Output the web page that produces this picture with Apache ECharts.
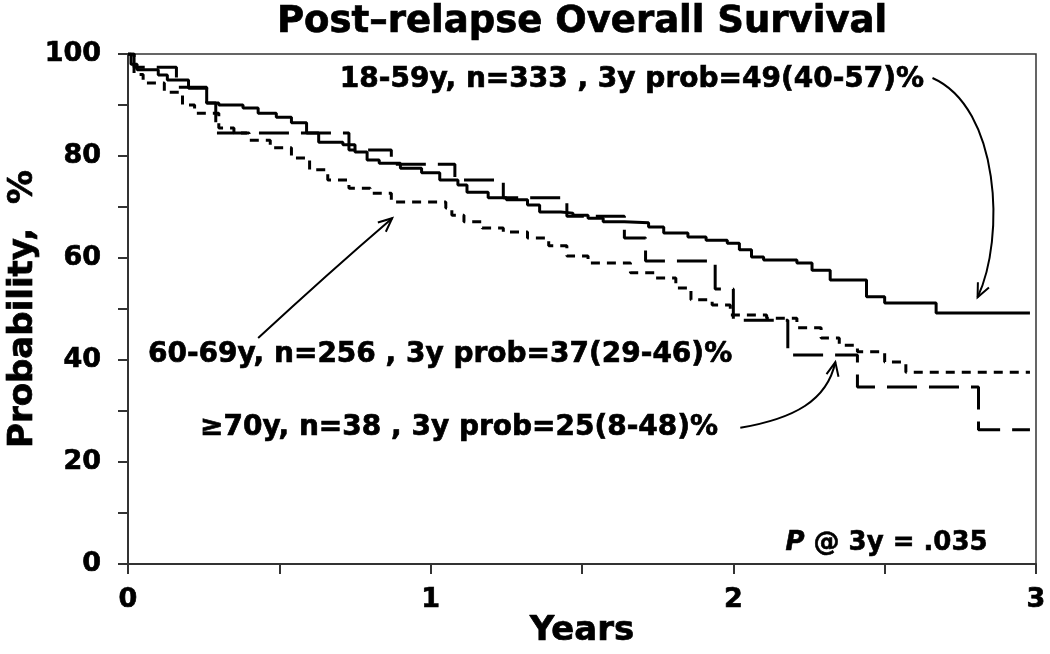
<!DOCTYPE html>
<html><head><meta charset="utf-8">
<script src="https://cdn.jsdelivr.net/npm/echarts@6/dist/echarts.min.js"></script>
<style>html,body{margin:0;padding:0;background:#fff}#c{width:1050px;height:654px}</style>
</head><body><div id="c"></div>
<script>
const FONT = '"DejaVu Sans", Verdana, sans-serif';
const titleText = 'Post\u2013relapse Overall Survival';
const xName = 'Years';
const yName = 'Probability,  %';
const xLabelValues = [0, 1, 2, 3];
const yLabelValues = [0, 20, 40, 60, 80, 100];

// 18-59y (solid)
const youngYears = [0, 0.01, 0.03, 0.10, 0.13, 0.20, 0.26, 0.30, 0.38, 0.43, 0.49, 0.54, 0.59, 0.63, 0.71, 0.75, 0.79, 0.83, 0.90, 0.97, 1.03, 1.09, 1.12, 1.19, 1.25, 1.32, 1.36, 1.43, 1.47, 1.52, 1.57, 1.64, 1.72, 1.77, 1.85, 1.91, 1.98, 2.02, 2.06, 2.10, 2.21, 2.26, 2.32, 2.44, 2.50, 2.67, 2.98];
const youngProb  = [100, 98, 96.9, 95.9, 94.9, 93.3, 90.4, 90.0, 89.4, 88.4, 87.6, 86.5, 84.5, 82.7, 82.2, 80.8, 79.2, 78.6, 77.6, 76.7, 75.3, 74.3, 72.9, 71.8, 71.4, 70.4, 69.0, 68.8, 68.4, 67.8, 67.1, 66.9, 66.1, 64.9, 64.1, 63.5, 62.9, 61.6, 60.2, 59.6, 59.0, 57.6, 55.7, 52.4, 51.2, 49.2, 49.2];

// 60-69y (short dash)
const midYears = [0, 0.02, 0.05, 0.12, 0.18, 0.22, 0.30, 0.35, 0.40, 0.47, 0.54, 0.60, 0.66, 0.73, 0.80, 0.87, 1.05, 1.07, 1.11, 1.17, 1.24, 1.32, 1.39, 1.45, 1.52, 1.66, 1.74, 1.81, 1.86, 1.93, 1.99, 2.11, 2.21, 2.29, 2.35, 2.41, 2.50, 2.57, 2.98];
const midProb  = [100, 96, 94.3, 92.5, 90.0, 88.4, 85.5, 84.5, 83.1, 81.6, 79.6, 77.3, 75.3, 73.7, 72.7, 71.0, 69.8, 68.4, 67.1, 65.9, 65.1, 63.9, 62.4, 60.4, 59.0, 57.1, 56.1, 54.1, 51.8, 50.8, 48.8, 48.2, 46.3, 44.3, 42.9, 41.6, 39.6, 37.6, 37.6];

// >=70y (long dash)
const oldYears = [0, 0.02, 0.16, 0.26, 0.29, 0.73, 0.87, 1.08, 1.24, 1.45, 1.64, 1.71, 1.94, 2.00, 2.18, 2.41, 2.81, 2.98];
const oldProb  = [100, 97.4, 93.5, 90.4, 84.5, 81.2, 78.4, 75.3, 71.8, 68.2, 63.9, 59.4, 53.9, 47.8, 41.0, 34.7, 26.3, 26.3];

const annoTexts = ['18-59y, n=333 , 3y prob=49(40-57)%', '60-69y, n=256 , 3y prob=37(29-46)%', '\u226570y, n=38 , 3y prob=25(8-48)%'];
const annoPos = [[0.70, 94.9], [0.066, 41.0], [0.238, 26.7]];
const pText = '{i|P} @ 3y = .035';
const pPos = [2.172, 4.1];
// arrows in data coords: start, cp1, cp2, end
const arrowCurves = [
  [[2.658, 95.3], [2.88, 89.5], [2.90, 64.0], [2.807, 52.3]],
  [[0.430, 44.3], [0.57, 52.0], [0.72, 60.0], [0.873, 67.8]],
  [[2.023, 26.7], [2.20, 28.5], [2.31, 32.0], [2.337, 39.6]]
];

const zip = (a, b) => a.map((v, i) => [v, b[i]]);
const chart = echarts.init(document.getElementById('c'), null, {renderer: 'canvas'});
const lineCommon = {type: 'line', step: 'end', showSymbol: false, symbol: 'none', animation: false, silent: true};
const heavy = {textBorderColor: '#000', textBorderWidth: 0.7};
chart.setOption({
  animation: false,
  backgroundColor: '#fff',
  title: {text: titleText, left: 272, top: -1, textStyle: Object.assign({fontFamily: FONT, fontWeight: 'bold', fontSize: 37, color: '#000'}, heavy)},
  grid: {left: 128, right: 14, top: 54, bottom: 90, show: true, borderColor: '#333', borderWidth: 1.5, backgroundColor: 'transparent', outerBoundsMode: 'none', containLabel: false},
  xAxis: {
    type: 'value', min: 0, max: 3, interval: 0.5,
    name: xName, nameLocation: 'middle', nameGap: 50, nameMoveOverlap: false,
    nameTextStyle: Object.assign({fontFamily: FONT, fontWeight: 'bold', fontSize: 34, color: '#000'}, heavy),
    axisLine: {show: true, onZero: false, lineStyle: {color: '#333', width: 2}},
    axisTick: {show: true, length: 10, lineStyle: {color: '#333', width: 2}},
    splitLine: {show: false},
    axisLabel: Object.assign({margin: 22, fontFamily: FONT, fontWeight: 'bold', fontSize: 27, color: '#000',
      formatter: v => xLabelValues.includes(v) ? String(v) : ''}, heavy)
  },
  yAxis: {
    type: 'value', min: 0, max: 100, interval: 10,
    name: yName, nameLocation: 'middle', nameGap: 88, nameRotate: 90, nameMoveOverlap: false,
    nameTextStyle: Object.assign({fontFamily: FONT, fontWeight: 'bold', fontSize: 34, color: '#000'}, heavy),
    axisLine: {show: true, onZero: false, lineStyle: {color: '#333', width: 2}},
    axisTick: {show: true, length: 10, lineStyle: {color: '#333', width: 2}},
    splitLine: {show: false},
    axisLabel: Object.assign({margin: 27, fontFamily: FONT, fontWeight: 'bold', fontSize: 27, color: '#000',
      formatter: v => yLabelValues.includes(v) ? String(v) : ''}, heavy)
  },
  series: [
    Object.assign({name: '18-59y', data: zip(youngYears, youngProb), lineStyle: {color: '#000', width: 3, type: 'solid'}}, lineCommon),
    Object.assign({name: '60-69y', data: zip(midYears, midProb), lineStyle: {color: '#000', width: 3, type: [9, 7]}}, lineCommon),
    Object.assign({name: '>=70y', data: zip(oldYears, oldProb), lineStyle: {color: '#000', width: 3, type: [30, 12]}}, lineCommon)
  ]
});

const px = p => chart.convertToPixel({gridIndex: 0}, p);
const graphics = [];
annoTexts.forEach((t, i) => {
  const p = px(annoPos[i]);
  graphics.push({type: 'text', x: p[0], y: p[1], silent: true,
    style: {text: t, fontFamily: FONT, fontWeight: 'bold', fontSize: 28, fill: '#000', stroke: '#000', lineWidth: 0.7, verticalAlign: 'middle', align: 'left'}});
});
const pp = px(pPos);
graphics.push({type: 'text', x: pp[0], y: pp[1], silent: true,
  style: {text: pText, fontFamily: FONT, fontWeight: 'bold', fontSize: 26, fill: '#000', stroke: '#000', lineWidth: 0.6, verticalAlign: 'middle', align: 'left',
    rich: {i: {fontFamily: FONT, fontWeight: 'bold', fontStyle: 'italic', fontSize: 26, fill: '#000'}}}});
arrowCurves.forEach(c => {
  const [s, c1, c2, e] = c.map(px);
  graphics.push({type: 'bezierCurve', silent: true,
    shape: {x1: s[0], y1: s[1], cpx1: c1[0], cpy1: c1[1], cpx2: c2[0], cpy2: c2[1], x2: e[0], y2: e[1]},
    style: {stroke: '#000', lineWidth: 2, fill: null}});
  const ang = Math.atan2(e[1] - c2[1], e[0] - c2[0]);
  const L = 15, w = 0.42;
  const a1 = [e[0] - L * Math.cos(ang - w), e[1] - L * Math.sin(ang - w)];
  const a2 = [e[0] - L * Math.cos(ang + w), e[1] - L * Math.sin(ang + w)];
  graphics.push({type: 'polyline', silent: true, shape: {points: [a1, e, a2]}, style: {stroke: '#000', lineWidth: 2, fill: null}});
});
chart.setOption({graphic: graphics});
</script>
</body></html>
